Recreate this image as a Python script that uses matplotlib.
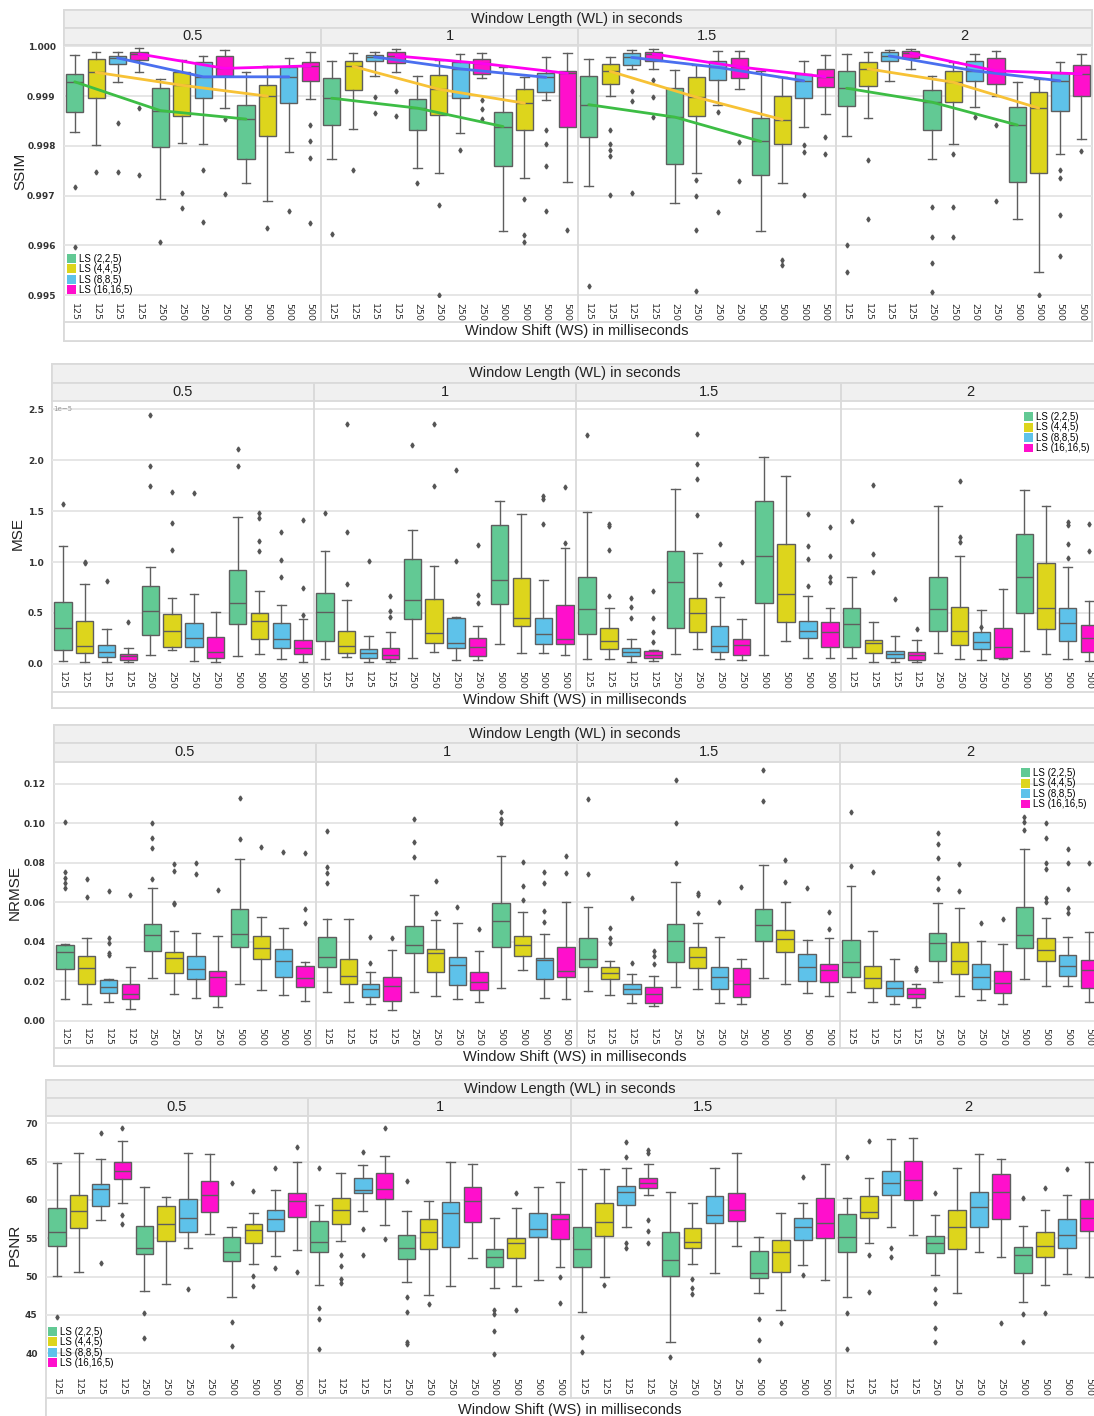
import matplotlib
matplotlib.use("Agg")
import matplotlib.pyplot as plt
import matplotlib.patches as mpatches
from matplotlib.lines import Line2D
import numpy as np

W, H = 1094, 1416
SANS = ["Liberation Sans", "DejaVu Sans"]
plt.rcParams.update({"font.family": SANS})

# ── categories ───────────────────────────────────────────────
WL_LABELS = ["0.5", "1", "1.5", "2"]
WS_TICKS = ["125"] * 4 + ["250"] * 4 + ["500"] * 4
LS_LABELS = ["LS (2,2,5)", "LS (4,4,5)", "LS (8,8,5)", "LS (16,16,5)"]
BOX_COLORS = ["#62C994", "#DDD51C", "#5EC2EA", "#FF0FCC"]
LINE_COLORS = ["#3DBD45", "#F7C236", "#4A6FEF", "#FF00F0"]

# ── SSIM (per WL facet: 12 boxes = WS 125/250/500 x LS) ───────
SSIM_MED = [
    [0.99929, 0.99948, 0.99977, 0.99985, 0.99871, 0.99922, 0.99939, 0.99956, 0.99854, 0.99900, 0.99939, 0.99961],
    [0.99896, 0.99960, 0.99979, 0.99981, 0.99876, 0.99914, 0.99955, 0.99966, 0.99839, 0.99886, 0.99938, 0.99946],
    [0.99883, 0.99950, 0.99978, 0.99985, 0.99858, 0.99898, 0.99958, 0.99959, 0.99809, 0.99853, 0.99931, 0.99939],
    [0.99916, 0.99955, 0.99981, 0.99987, 0.99888, 0.99928, 0.99951, 0.99951, 0.99842, 0.99876, 0.99931, 0.99945],
]
SSIM_Q1 = [
    [0.99868, 0.99896, 0.99965, 0.99973, 0.99797, 0.99860, 0.99897, 0.99941, 0.99773, 0.99820, 0.99886, 0.99931],
    [0.99842, 0.99913, 0.99971, 0.99967, 0.99831, 0.99862, 0.99896, 0.99945, 0.99759, 0.99833, 0.99908, 0.99839],
    [0.99818, 0.99924, 0.99963, 0.99971, 0.99764, 0.99861, 0.99933, 0.99936, 0.99741, 0.99804, 0.99896, 0.99919],
    [0.99880, 0.99921, 0.99971, 0.99977, 0.99831, 0.99888, 0.99931, 0.99924, 0.99727, 0.99745, 0.99871, 0.99901],
]
SSIM_Q3 = [
    [0.99945, 0.99975, 0.99981, 0.99989, 0.99916, 0.99949, 0.99969, 0.99981, 0.99882, 0.99922, 0.99958, 0.99969],
    [0.99937, 0.99970, 0.99983, 0.99988, 0.99894, 0.99943, 0.99969, 0.99975, 0.99869, 0.99914, 0.99946, 0.99951],
    [0.99941, 0.99965, 0.99986, 0.99989, 0.99916, 0.99938, 0.99971, 0.99976, 0.99856, 0.99900, 0.99945, 0.99955],
    [0.99951, 0.99969, 0.99989, 0.99990, 0.99912, 0.99951, 0.99971, 0.99976, 0.99878, 0.99908, 0.99946, 0.99963],
]
SSIM_LO = [
    [0.99828, 0.99802, 0.99929, 0.99948, 0.99694, 0.99806, 0.99804, 0.99876, 0.99725, 0.99689, 0.99787, 0.99894],
    [0.99774, 0.99834, 0.99941, 0.99948, 0.99755, 0.99745, 0.99826, 0.99936, 0.99628, 0.99735, 0.99893, 0.99727],
    [0.99719, 0.99901, 0.99955, 0.99955, 0.99685, 0.99745, 0.99882, 0.99914, 0.99628, 0.99725, 0.99839, 0.99864],
    [0.99820, 0.99856, 0.99931, 0.99955, 0.99774, 0.99803, 0.99879, 0.99901, 0.99652, 0.99547, 0.99784, 0.99814],
]
SSIM_HI = [
    [0.99983, 0.99989, 0.99988, 0.99996, 0.99934, 0.99973, 0.99981, 0.99993, 0.99948, 0.99961, 0.99976, 0.99988],
    [0.99971, 0.99986, 0.99988, 0.99995, 0.99940, 0.99973, 0.99985, 0.99987, 0.99958, 0.99939, 0.99979, 0.99986],
    [0.99975, 0.99978, 0.99993, 0.99995, 0.99953, 0.99963, 0.99990, 0.99991, 0.99951, 0.99939, 0.99971, 0.99983],
    [0.99985, 0.99989, 0.99993, 0.99995, 0.99941, 0.99968, 0.99985, 0.99990, 0.99929, 0.99934, 0.99969, 0.99985],
]
SSIM_FLIERS = [
    [[0.99718, 0.99596], [0.99747], [0.99846, 0.99747], [0.99876, 0.99742], [0.99606], [0.99705, 0.99676],
     [0.99752, 0.99647], [0.99854, 0.99703], [], [0.99634], [0.99669], [0.99843, 0.99809, 0.99775, 0.99644]],
    [[0.99622], [0.99751], [0.99899, 0.99866], [0.99911, 0.99860], [0.99725], [0.99682, 0.99500],
     [0.99791], [0.99893, 0.99874, 0.99854], [], [0.99694, 0.99620, 0.99607],
     [0.99831, 0.99804, 0.99759, 0.99669], [0.99630]],
    [[0.99518], [0.99831, 0.99804, 0.99791, 0.99779, 0.99701], [0.99910, 0.99891, 0.99706],
     [0.99933, 0.99898, 0.99858], [], [0.99731, 0.99699, 0.99631, 0.99509], [0.99868, 0.99667],
     [0.99807, 0.99729], [], [0.99570, 0.99560], [0.99801, 0.99787, 0.99701], [0.99818, 0.99783]],
    [[0.99600, 0.99547], [0.99771, 0.99652], [], [], [0.99677, 0.99617, 0.99564, 0.99507],
     [0.99784, 0.99677, 0.99617], [0.99858], [0.99843, 0.99689], [], [0.99501],
     [0.99752, 0.99735, 0.99660, 0.99578], [0.99789]],
]

# ── MSE (units of 1e-5) ──────────────────────────────────────
MSE_MED = [
    [0.350, 0.180, 0.120, 0.080, 0.524, 0.327, 0.250, 0.115, 0.596, 0.422, 0.242, 0.154],
    [0.507, 0.180, 0.105, 0.088, 0.628, 0.308, 0.203, 0.164, 0.825, 0.448, 0.295, 0.242],
    [0.540, 0.226, 0.121, 0.088, 0.808, 0.497, 0.180, 0.187, 1.054, 0.684, 0.327, 0.311],
    [0.389, 0.209, 0.095, 0.088, 0.537, 0.327, 0.219, 0.164, 0.851, 0.553, 0.399, 0.252],
]
MSE_Q1 = [
    [0.137, 0.105, 0.065, 0.039, 0.285, 0.164, 0.164, 0.062, 0.393, 0.245, 0.154, 0.098],
    [0.229, 0.105, 0.062, 0.049, 0.442, 0.203, 0.154, 0.082, 0.586, 0.376, 0.193, 0.196],
    [0.295, 0.144, 0.079, 0.056, 0.357, 0.317, 0.115, 0.088, 0.602, 0.416, 0.252, 0.170],
    [0.164, 0.111, 0.062, 0.039, 0.327, 0.187, 0.147, 0.062, 0.497, 0.340, 0.226, 0.121],
]
MSE_Q3 = [
    [0.605, 0.422, 0.187, 0.098, 0.766, 0.488, 0.400, 0.262, 0.923, 0.504, 0.400, 0.236],
    [0.694, 0.324, 0.147, 0.160, 1.027, 0.638, 0.448, 0.252, 1.365, 0.848, 0.455, 0.579],
    [0.851, 0.357, 0.154, 0.131, 1.103, 0.651, 0.376, 0.245, 1.600, 1.175, 0.425, 0.409],
    [0.553, 0.236, 0.131, 0.121, 0.857, 0.563, 0.317, 0.350, 1.273, 0.988, 0.546, 0.383],
]
MSE_LO = [
    [0.033, 0.023, 0.016, 0.016, 0.092, 0.137, 0.030, 0.023, 0.079, 0.095, 0.046, 0.023],
    [0.046, 0.072, 0.023, 0.016, 0.062, 0.115, 0.039, 0.039, 0.193, 0.105, 0.105, 0.088],
    [0.046, 0.049, 0.023, 0.030, 0.095, 0.144, 0.049, 0.039, 0.088, 0.226, 0.062, 0.056],
    [0.056, 0.023, 0.023, 0.016, 0.105, 0.046, 0.039, 0.049, 0.131, 0.095, 0.049, 0.030],
]
MSE_HI = [
    [1.158, 0.782, 0.340, 0.154, 0.949, 0.645, 0.687, 0.507, 1.446, 0.717, 0.579, 0.438],
    [1.109, 0.628, 0.275, 0.317, 1.309, 0.965, 0.460, 0.376, 1.594, 1.469, 0.825, 1.135],
    [1.495, 0.553, 0.245, 0.140, 1.718, 1.086, 0.654, 0.438, 2.026, 1.839, 0.668, 0.546],
    [0.851, 0.416, 0.275, 0.236, 1.554, 1.063, 0.530, 0.733, 1.708, 1.545, 0.955, 0.622],
]
MSE_FLIERS = [
    [[1.567], [0.990, 1.000], [0.810], [0.415], [1.741, 1.937, 2.444], [1.113, 1.387, 1.685],
     [1.675], [], [1.937, 2.110], [1.103, 1.207, 1.430, 1.479], [0.851, 1.021, 1.299],
     [0.481, 0.743, 1.414]],
    [[1.479], [0.782, 1.293, 2.356], [1.011], [0.465, 0.524, 0.668], [2.143], [1.741, 2.353],
     [1.005, 1.898], [0.596, 0.677, 1.168], [], [], [1.374, 1.616, 1.649], [1.191, 1.731]],
    [[2.241], [0.671, 1.113, 1.350, 1.371], [0.448, 0.563, 0.651], [0.219, 0.317, 0.448, 0.717],
     [], [1.463, 1.813, 1.960, 2.258], [0.785, 0.982, 1.178], [0.998], [], [],
     [0.766, 1.031, 1.158, 1.469], [0.808, 0.857, 1.060, 1.348]],
    [[1.404], [0.900, 1.077, 1.757], [0.635], [0.340], [], [1.201, 1.250, 1.796], [0.366], [],
     [], [], [1.037, 1.175, 1.358, 1.397], [1.103, 1.371]],
]

# ── NRMSE ────────────────────────────────────────────────────
NRMSE_MED = [
    [0.0347, 0.0265, 0.0172, 0.0135, 0.0434, 0.0319, 0.0262, 0.0223, 0.0439, 0.0370, 0.0304, 0.0218],
    [0.0325, 0.0226, 0.0159, 0.0176, 0.0384, 0.0341, 0.0282, 0.0198, 0.0507, 0.0384, 0.0308, 0.0252],
    [0.0311, 0.0240, 0.0159, 0.0135, 0.0406, 0.0325, 0.0223, 0.0184, 0.0485, 0.0414, 0.0274, 0.0257],
    [0.0296, 0.0218, 0.0164, 0.0135, 0.0396, 0.0304, 0.0220, 0.0189, 0.0434, 0.0358, 0.0277, 0.0257],
]
NRMSE_Q1 = [
    [0.0260, 0.0184, 0.0142, 0.0108, 0.0353, 0.0240, 0.0210, 0.0125, 0.0375, 0.0311, 0.0223, 0.0169],
    [0.0270, 0.0184, 0.0118, 0.0101, 0.0341, 0.0248, 0.0181, 0.0155, 0.0372, 0.0328, 0.0210, 0.0223],
    [0.0270, 0.0210, 0.0135, 0.0091, 0.0296, 0.0265, 0.0159, 0.0122, 0.0406, 0.0346, 0.0203, 0.0198],
    [0.0223, 0.0164, 0.0127, 0.0113, 0.0304, 0.0235, 0.0159, 0.0142, 0.0367, 0.0304, 0.0228, 0.0167],
]
NRMSE_Q3 = [
    [0.0384, 0.0330, 0.0206, 0.0186, 0.0488, 0.0346, 0.0328, 0.0254, 0.0565, 0.0431, 0.0362, 0.0277],
    [0.0426, 0.0313, 0.0186, 0.0223, 0.0482, 0.0362, 0.0325, 0.0248, 0.0595, 0.0429, 0.0316, 0.0375],
    [0.0417, 0.0274, 0.0184, 0.0169, 0.0488, 0.0372, 0.0270, 0.0265, 0.0566, 0.0460, 0.0336, 0.0287],
    [0.0409, 0.0279, 0.0203, 0.0167, 0.0443, 0.0401, 0.0286, 0.0252, 0.0578, 0.0417, 0.0333, 0.0308],
]
NRMSE_LO = [
    [0.0110, 0.0086, 0.0096, 0.0059, 0.0218, 0.0135, 0.0113, 0.0068, 0.0184, 0.0155, 0.0130, 0.0101],
    [0.0144, 0.0096, 0.0085, 0.0054, 0.0147, 0.0127, 0.0108, 0.0096, 0.0164, 0.0257, 0.0113, 0.0108],
    [0.0152, 0.0130, 0.0091, 0.0074, 0.0169, 0.0159, 0.0088, 0.0083, 0.0218, 0.0186, 0.0142, 0.0127],
    [0.0144, 0.0093, 0.0083, 0.0071, 0.0194, 0.0127, 0.0105, 0.0083, 0.0211, 0.0176, 0.0177, 0.0096],
]
NRMSE_HI = [
    [0.0390, 0.0420, 0.0210, 0.0270, 0.0674, 0.0455, 0.0443, 0.0429, 0.0818, 0.0527, 0.0472, 0.0296],
    [0.0515, 0.0515, 0.0248, 0.0358, 0.0637, 0.0510, 0.0497, 0.0355, 0.0837, 0.0553, 0.0438, 0.0603],
    [0.0575, 0.0304, 0.0235, 0.0226, 0.0705, 0.0494, 0.0423, 0.0311, 0.0789, 0.0603, 0.0409, 0.0417],
    [0.0683, 0.0456, 0.0313, 0.0186, 0.0598, 0.0573, 0.0406, 0.0389, 0.0869, 0.0522, 0.0423, 0.0451],
]
NRMSE_FLIERS = [
    [[0.0674, 0.0696, 0.0722, 0.0755, 0.1006], [0.0629, 0.0717], [0.0333, 0.0341, 0.0396, 0.0417, 0.0657],
     [0.0637], [0.0717, 0.0877, 0.0928, 0.1000], [0.0590, 0.0598, 0.0759, 0.0794], [0.0744, 0.0798],
     [0.0663], [0.0921, 0.1130], [0.0879], [0.0854], [0.0494, 0.0566, 0.0848]],
    [[0.0700, 0.0750, 0.0781, 0.0962], [], [0.0291, 0.0426], [0.0417], [0.0828, 0.0904, 0.1023],
     [0.0548, 0.0710], [0.0575], [0.0465], [0.1000, 0.1023, 0.1060], [0.0612, 0.0684, 0.0806],
     [0.0502, 0.0556, 0.0696, 0.0752], [0.0747, 0.0835]],
    [[0.0742, 0.1124], [0.0396, 0.0417, 0.0468], [0.0294, 0.0620], [0.0286, 0.0330, 0.0353],
     [0.0801, 0.1000, 0.1220], [0.0548, 0.0637, 0.0646], [0.0603], [0.0679], [0.1115, 0.1270],
     [0.0701, 0.0815], [0.0671], [0.0463, 0.0549]],
    [[0.0786, 0.1056], [0.0755], [], [0.0257, 0.0269], [0.0668, 0.0725, 0.0826, 0.0894, 0.0950],
     [0.0657, 0.0793], [0.0494], [0.0515], [0.0967, 0.1006, 0.1034],
     [0.0603, 0.0620, 0.0767, 0.0798, 0.0924, 0.1004], [0.0544, 0.0570, 0.0666, 0.0798, 0.0870],
     [0.0798]],
]

# ── PSNR ─────────────────────────────────────────────────────
PSNR_MED = [
    [55.78, 58.57, 61.39, 63.78, 53.78, 56.87, 57.70, 60.65, 53.26, 56.09, 57.48, 59.87],
    [54.48, 58.70, 61.30, 61.43, 53.70, 55.78, 58.35, 59.87, 52.61, 54.43, 56.17, 57.48],
    [53.61, 57.17, 61.09, 62.17, 52.17, 54.57, 58.04, 58.70, 50.43, 53.26, 56.43, 57.04],
    [55.22, 58.48, 62.26, 62.61, 54.35, 56.52, 59.04, 61.09, 52.83, 54.00, 55.43, 57.61],
]
PSNR_Q1 = [
    [54.04, 56.30, 59.26, 62.70, 52.91, 54.65, 55.78, 58.39, 52.04, 54.43, 56.00, 57.83],
    [53.26, 56.87, 60.96, 60.09, 52.30, 53.57, 53.91, 57.09, 51.22, 52.39, 55.22, 54.87],
    [51.30, 55.35, 59.35, 61.52, 50.09, 53.70, 56.96, 57.30, 49.78, 50.65, 54.78, 55.09],
    [53.26, 57.61, 60.65, 60.00, 53.13, 53.61, 56.52, 57.52, 50.43, 52.61, 53.70, 55.96],
]
PSNR_Q3 = [
    [59.00, 60.65, 62.09, 64.91, 56.61, 59.22, 60.13, 62.48, 55.22, 56.87, 58.70, 60.96],
    [57.26, 60.30, 62.83, 63.48, 55.43, 57.52, 59.70, 61.74, 53.61, 55.09, 58.35, 58.13],
    [56.52, 59.65, 61.83, 62.83, 55.87, 56.30, 60.52, 60.96, 53.35, 54.78, 57.61, 60.22],
    [58.17, 60.52, 63.78, 65.13, 55.30, 58.70, 61.00, 63.39, 53.91, 55.78, 57.48, 60.09],
]
PSNR_LO = [
    [50.09, 50.57, 57.40, 59.65, 48.13, 49.00, 53.78, 55.52, 47.39, 51.61, 52.74, 53.48],
    [48.91, 54.70, 58.57, 56.74, 49.35, 47.61, 48.78, 52.39, 48.48, 48.78, 49.57, 51.22],
    [45.35, 49.91, 56.43, 60.65, 41.52, 51.61, 50.52, 54.00, 47.91, 45.65, 51.52, 49.57],
    [47.39, 54.43, 56.43, 55.43, 50.22, 47.83, 53.26, 52.52, 46.74, 48.91, 50.35, 50.00],
]
PSNR_HI = [
    [64.78, 66.17, 65.30, 67.70, 61.65, 60.35, 66.09, 66.00, 56.52, 58.26, 61.30, 64.91],
    [59.35, 63.48, 64.57, 65.74, 58.61, 59.91, 64.91, 64.65, 57.70, 58.91, 61.65, 62.39],
    [64.00, 64.00, 64.13, 64.65, 61.00, 59.57, 64.22, 66.17, 55.13, 58.35, 59.57, 64.70],
    [60.30, 62.83, 67.96, 68.13, 58.04, 64.13, 66.00, 65.30, 56.61, 58.70, 60.65, 64.91],
]
PSNR_FLIERS = [
    [[44.70], [], [51.83, 68.78], [58.04, 56.83, 69.43], [45.30, 42.04], [], [48.39], [],
     [62.26, 44.04, 41.00], [61.17, 50.09, 48.78], [64.22, 51.09], [66.96, 50.57]],
    [[64.22, 45.87, 44.43, 40.52], [52.83, 51.39, 49.70, 49.13], [66.30, 56.22, 52.83], [69.43, 54.87],
     [62.52, 47.39, 45.43, 41.52, 41.17], [46.39], [], [], [45.65, 45.09, 42.91, 39.91],
     [60.96, 45.65], [], [50.00, 46.52]],
    [[42.09, 40.22], [48.91], [67.61, 65.65, 54.35, 53.70], [66.52, 66.09, 57.39, 55.96, 54.35],
     [39.48], [49.70, 48.48, 47.70], [], [], [44.43, 41.74, 39.13], [43.91], [63.04, 50.22], []],
    [[65.65, 45.30, 40.57], [67.70, 52.83, 47.96], [53.70, 52.61], [],
     [60.96, 48.35, 46.61, 43.35, 41.52], [], [], [43.91], [60.30, 45.09, 41.43], [61.52, 45.22],
     [64.04], []],
]

# ── layout (pixels, y from top) ──────────────────────────────
EDGE = "#dadada"
STRIP = "#f0f0f0"
GRAYLINE = "#5e5e5e"

fig = plt.figure(figsize=(W / 100, H / 100), dpi=100)


def frect(x0, y0, x1, y1):
    return [x0 / W, 1 - y1 / H, (x1 - x0) / W, (y1 - y0) / H]


def add_rect(x0, y0, x1, y1, fc):
    r = mpatches.Rectangle((x0 / W, 1 - y1 / H), (x1 - x0) / W, (y1 - y0) / H,
                           transform=fig.transFigure, facecolor=fc,
                           edgecolor=EDGE, linewidth=1.3, zorder=-1)
    fig.patches.append(r)


def draw_panel(g, med, q1, q3, lo, hi, fliers, ylim, yticks, yfmt, ylabel,
               trend=False, offset_text=None):
    L, R, T, hb, sb, pt, pb, tb, B = (g[k] for k in
                                      ("L", "R", "T", "hb", "sb", "pt", "pb", "tb", "B"))
    fx = g["facets"]
    add_rect(L, T, R, B, "white")
    add_rect(L, T, R, hb, STRIP)
    add_rect(L, tb, R, B, "white")
    fig.text(g["hx"] / W, 1 - (T + hb) / 2 / H, "Window Length (WL) in seconds",
             ha="center", va="center", fontsize=10.5, color="#222222")
    fig.text(g["hx"] / W, 1 - (tb + B) / 2 / H, "Window Shift (WS) in milliseconds",
             ha="center", va="center", fontsize=10.5, color="#222222")
    fig.text(g["ylx"] / W, 1 - (pt + pb) / 2 / H, ylabel, rotation=90,
             ha="center", va="center", fontsize=11, color="#222222")

    axes = []
    for k in range(4):
        x0, x1 = fx[k], fx[k + 1]
        add_rect(x0, hb, x1, sb, STRIP)
        fig.text((x0 + x1) / 2 / W, 1 - (hb + sb) / 2 / H, WL_LABELS[k],
                 ha="center", va="center", fontsize=10.5, color="#222222")
        ax = fig.add_axes(frect(x0, pt, x1, pb))
        ax.patch.set_visible(False)
        for s in ax.spines.values():
            s.set_visible(False)

        stats = []
        for i in range(12):
            stats.append(dict(med=med[k][i], q1=q1[k][i], q3=q3[k][i],
                              whislo=lo[k][i], whishi=hi[k][i], fliers=fliers[k][i]))
        bp = ax.bxp(stats, positions=np.arange(12), widths=0.8, patch_artist=True,
                    boxprops=dict(edgecolor=GRAYLINE, linewidth=1.0),
                    whiskerprops=dict(color=GRAYLINE, linewidth=1.0),
                    capprops=dict(color=GRAYLINE, linewidth=1.0),
                    medianprops=dict(color=GRAYLINE, linewidth=1.0),
                    flierprops=dict(marker="d", markersize=2.5, markerfacecolor="#555555",
                                    markeredgecolor="#555555", linestyle="none"),
                    zorder=2)
        for i, b in enumerate(bp["boxes"]):
            b.set_facecolor(BOX_COLORS[i % 4])

        if trend:
            for j in range(4):
                pos = [j, 4 + j, 8 + j]
                ax.plot(pos, [med[k][p] for p in pos], color=LINE_COLORS[j],
                        linewidth=2.0, zorder=4, solid_capstyle="round")

        ax.set_xlim(-0.5, 11.5)
        ax.set_ylim(*ylim)
        ax.set_yticks(yticks)
        ax.yaxis.grid(True, color="#e6e6e6", linewidth=1.4, zorder=0)
        ax.set_axisbelow(True)
        ax.set_xticks(np.arange(12))
        ax.set_xticklabels(WS_TICKS, rotation=270, fontsize=6.8,
                           family=["DejaVu Sans"], color="#333333")
        ax.tick_params(axis="both", length=0, pad=4)
        if k == 0:
            ax.set_yticklabels([yfmt.format(t) for t in yticks], fontsize=6.5,
                               fontweight="bold", family=["DejaVu Sans"], color="#333333")
            ax.tick_params(axis="y", pad=6)
        else:
            ax.set_yticklabels([])
        axes.append(ax)

    # facet separators
    for xs in fx[1:4]:
        fig.add_artist(Line2D([xs / W, xs / W], [1 - hb / H, 1 - tb / H],
                              transform=fig.transFigure, color=EDGE, linewidth=1.3))

    if offset_text:
        axes[0].text(0.005, 0.985, offset_text, transform=axes[0].transAxes,
                     fontsize=5, color="#999999", va="top", ha="left",
                     family=["DejaVu Sans"])

    handles = [mpatches.Patch(facecolor=c, edgecolor="none", label=l)
               for c, l in zip(BOX_COLORS, LS_LABELS)]
    lx, ly, lloc = g["leg"]
    fig.legend(handles=handles, loc=lloc, bbox_to_anchor=(lx / W, 1 - ly / H),
               bbox_transform=fig.transFigure, frameon=False, fontsize=7,
               handlelength=0.9, handleheight=1.0, handletextpad=0.3,
               labelspacing=0.05, borderaxespad=0.0, borderpad=0.0)


G_SSIM = dict(L=64, R=1092, T=10, hb=28, sb=45, pt=46, pb=297, tb=322, B=341,
              facets=[64, 321, 578, 836, 1092], ylx=20, hx=577,
              leg=(67, 295, "lower left"))
G_MSE = dict(L=52, R=1100, T=364, hb=383, sb=401, pt=402, pb=665, tb=692, B=708,
             facets=[52, 314, 576, 841, 1100], ylx=18, hx=575,
             leg=(1024, 412, "upper left"))
G_NRMSE = dict(L=54, R=1100, T=725, hb=743, sb=762, pt=763, pb=1022, tb=1048, B=1066,
               facets=[54, 316, 577, 840, 1100], ylx=15, hx=575,
               leg=(1021, 768, "upper left"))
G_PSNR = dict(L=46, R=1100, T=1080, hb=1098, sb=1116, pt=1117, pb=1372, tb=1398, B=1422,
              facets=[46, 308, 571, 836, 1100], ylx=15, hx=570,
              leg=(48, 1368, "lower left"))

draw_panel(G_SSIM, SSIM_MED, SSIM_Q1, SSIM_Q3, SSIM_LO, SSIM_HI, SSIM_FLIERS,
           (0.99496, 1.00001), [0.995, 0.996, 0.997, 0.998, 0.999, 1.000], "{:.3f}",
           "SSIM", trend=True)
draw_panel(G_MSE, MSE_MED, MSE_Q1, MSE_Q3, MSE_LO, MSE_HI, MSE_FLIERS,
           (-0.01, 2.569), [0.0, 0.5, 1.0, 1.5, 2.0, 2.5], "{:.1f}",
           "MSE", offset_text="1e\u22125")
draw_panel(G_NRMSE, NRMSE_MED, NRMSE_Q1, NRMSE_Q3, NRMSE_LO, NRMSE_HI, NRMSE_FLIERS,
           (-0.0007, 0.1306), [0.00, 0.02, 0.04, 0.06, 0.08, 0.10, 0.12], "{:.2f}",
           "NRMSE")
draw_panel(G_PSNR, PSNR_MED, PSNR_Q1, PSNR_Q3, PSNR_LO, PSNR_HI, PSNR_FLIERS,
           (37.56, 70.82), [40, 45, 50, 55, 60, 65, 70], "{:d}",
           "PSNR")

fig.savefig("out.png", dpi=100)
